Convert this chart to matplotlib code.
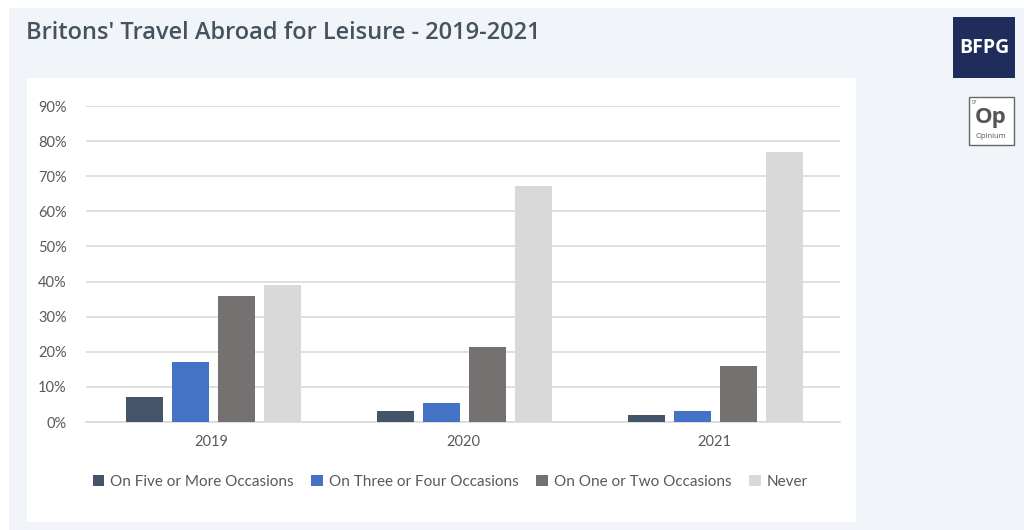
import matplotlib.pyplot as plt
from matplotlib.patches import Rectangle
import numpy as np

years = ["2019", "2020", "2021"]
series = ["On Five or More Occasions", "On Three or Four Occasions",
          "On One or Two Occasions", "Never"]
five_plus = [7, 3, 2]
three_four = [17, 5.5, 3]
one_two = [36, 21.3, 16]
never = [39, 67.2, 76.8]
values = [five_plus, three_four, one_two, never]
colors = ["#44546a", "#4472c4", "#767171", "#d9d9d9"]

W, H = 1024, 530
fig = plt.figure(figsize=(W / 100, H / 100), dpi=100)
fig.patch.set_facecolor("white")

def px_rect(x0, y0, x1, y1, **kw):
    # rectangle given in pixel coords, origin top-left
    r = Rectangle((x0 / W, 1 - y1 / H), (x1 - x0) / W, (y1 - y0) / H,
                  transform=fig.transFigure, **kw)
    fig.patches.append(r)
    return r

# page background and white chart card
px_rect(9, 8, W, H, facecolor="#f1f5f9", edgecolor="none", zorder=0)
px_rect(27, 78, 856, 522, facecolor="white", edgecolor="none", zorder=1)

fig.text(26 / W, 1 - 33 / H, "Britons' Travel Abroad for Leisure - 2019-2021",
         fontsize=17, color="#46535e", family="Open Sans", weight="semibold",
         va="center", ha="left")

# logos
px_rect(953, 17, 1015, 78, facecolor="#1f2c5c", edgecolor="none", zorder=2)
fig.text(984 / W, 1 - 48 / H, "BFPG", color="white", fontsize=14,
         family="Open Sans", weight="bold", ha="center", va="center")
px_rect(969, 97, 1014, 145, facecolor="white", edgecolor="#666666",
        linewidth=1, zorder=2)
fig.text(991 / W, 1 - 117 / H, "Op", color="#555555", fontsize=16,
         family="Open Sans", weight="bold", ha="center", va="center")
fig.text(991 / W, 1 - 137 / H, "Opinium", color="#555555", fontsize=5.5,
         family="Open Sans", ha="center", va="center")
fig.text(972 / W, 1 - 102 / H, "07", color="#555555", fontsize=3.5,
         family="Open Sans", ha="left", va="center")

ax = fig.add_axes([86 / W, 1 - 422 / H, (840 - 86) / W, (422 - 106) / H])
ax.set_facecolor("none")
ax.set_zorder(3)

x = np.arange(len(years))
step = 0.183
width = 0.147
for i, (vals, c, name) in enumerate(zip(values, colors, series)):
    ax.bar(x + (i - 1.5) * step + 0.006, vals, width, color=c, label=name,
           zorder=3)

ax.set_xlim(-0.5, 2.5)
ax.set_ylim(0, 90)
ax.set_yticks(range(0, 100, 10))
ax.set_yticklabels([f"{v}%" for v in range(0, 100, 10)])
ax.set_xticks(x)
ax.set_xticklabels(years)
ax.grid(axis="y", color="#d9d9d9", linewidth=1.2, zorder=0)
for s in ["top", "right", "left"]:
    ax.spines[s].set_visible(False)
ax.spines["bottom"].set_color("#d9d9d9")
ax.spines["bottom"].set_linewidth(1.2)
ax.tick_params(axis="both", length=0, labelsize=10.5, labelcolor="#595959")
ax.tick_params(axis="y", pad=14)
ax.tick_params(axis="x", pad=9)
for lab in ax.get_xticklabels() + ax.get_yticklabels():
    lab.set_family("Lato")

leg = ax.legend(loc="center", bbox_to_anchor=(0.483, -0.19), ncol=4,
                frameon=False, handlelength=0.75, handleheight=0.75,
                handletextpad=0.4, columnspacing=1.15,
                prop={"family": "Lato", "size": 11})
for t in leg.get_texts():
    t.set_color("#595959")

fig.savefig("out.png", dpi=100)
